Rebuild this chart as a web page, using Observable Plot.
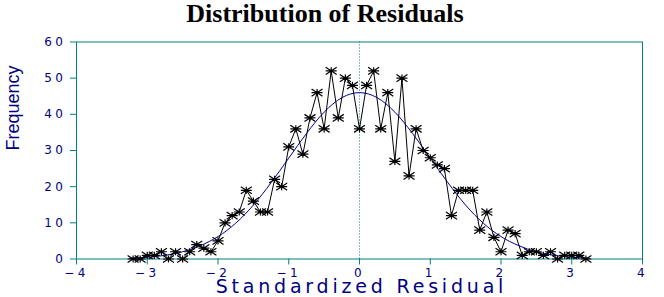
<!DOCTYPE html>
<html><head><meta charset="utf-8">
<script src="https://cdn.jsdelivr.net/npm/d3@7"></script>
<script src="https://cdn.jsdelivr.net/npm/@observablehq/plot@0.6"></script>
<style>
html,body{margin:0;padding:0;background:#fff}
body{width:664px;height:297px;overflow:hidden}
#title{font:bold 26px "Liberation Serif",serif;text-align:center;height:37px;line-height:28px;width:664px;padding-right:14px;box-sizing:border-box;color:#000}
#chart svg{display:block}
</style></head><body>
<div id="title">Distribution of Residuals</div>
<div id="chart"></div>
<script>
// Standardized residual bin centres and observed frequencies
const residual = [-3.2,-3.1,-3.0,-2.9,-2.8,-2.7,-2.6,-2.5,-2.4,-2.3,-2.2,-2.1,
  -2.0,-1.9,-1.8,-1.7,-1.6,-1.5,-1.4,-1.3,-1.2,-1.1,
  -1.0,-0.9,-0.8,-0.7,-0.6,-0.5,-0.4,-0.3,-0.2,-0.1,
  0.0,0.1,0.2,0.3,0.4,0.5,0.6,0.7,0.8,0.9,
  1.0,1.1,1.2,1.3,1.4,1.5,1.6,1.7,1.8,1.9,
  2.0,2.1,2.2,2.3,2.4,2.5,2.6,2.7,2.8,2.9,3.0,3.1,3.2];
const frequency = [0,0,1,1,2,0,2,0,2,4,3,2,
  5,10,12,13,19,16,13,13,22,20,
  31,36,29,39,46,36,52,39,50,48,
  36,48,52,36,46,27,50,23,36,30,
  28,26,25,12,19,19,19,8,13,6,
  2,8,7,1,2,2,1,2,0,1,1,1,0];

// Fitted normal curve
const curveX = [-3.25,-3.0,-2.75,-2.5,-2.25,-2.0,-1.75,-1.5,-1.25,-1.0,-0.75,-0.5,-0.25,
  0,0.25,0.5,0.75,1.0,1.25,1.5,1.75,2.0,2.25,2.5,2.75,3.0,3.25];
const curveY = [0.2,0.5,1.0,2.0,3.7,6.2,9.9,14.9,21.1,27.9,34.7,40.6,44.6,
  46.0,44.6,40.6,34.7,27.9,21.1,14.9,9.9,6.2,3.7,2.0,1.0,0.5,0.2];

const xTicks = [-4,-3,-2,-1,0,1,2,3,4];
const yTicks = [0,10,20,30,40,50,60];
const xLabel = "Standardized Residual";
const yLabel = "Frequency";

const points = residual.map((r, i) => ({r, f: frequency[i]}));
const curve = curveX.map((x, i) => ({x, y: curveY[i]}));

const teal = "#008080";
const navy = "#000080";
const curveColor = "#00009a";

const star = {
  draw(context, size) {
    const r = Math.sqrt(size / Math.PI);
    const h = r * 0.65;
    context.moveTo(-r, 0); context.lineTo(r, 0);
    context.moveTo(-r, -h); context.lineTo(r, h);
    context.moveTo(-r, h); context.lineTo(r, -h);
    context.moveTo(0, -h); context.lineTo(0, h);
  }
};

const fmt = d => d < 0 ? "\u2212" + Math.abs(d) : String(d);

const chart = Plot.plot({
  width: 664,
  height: 260,
  marginLeft: 76,
  marginRight: 22,
  marginTop: 4.5,
  marginBottom: 38.5,
  style: {background: "white", overflow: "visible"},
  x: {domain: [-4, 4]},
  y: {domain: [0, 60]},
  marks: [
    Plot.ruleX([0], {stroke: teal, strokeDasharray: "1,2"}),
    Plot.axisX({ticks: xTicks, tickSize: 6, tickPadding: 3, stroke: teal, fill: navy, tickFormat: fmt, label: null,
      fontFamily: "DejaVu Sans", fontSize: 12}),
    Plot.axisY({ticks: yTicks, tickSize: 6, tickPadding: 4, stroke: teal, fill: navy, label: null,
      fontFamily: "DejaVu Sans", fontSize: 12}),
    Plot.frame({stroke: teal}),
    Plot.line(curve, {x: "x", y: "y", stroke: curveColor, strokeWidth: 1, curve: "natural"}),
    Plot.line(points, {x: "r", y: "f", stroke: "black", strokeWidth: 1}),
    Plot.dot(points, {x: "r", y: "f", symbol: star, r: 5.5, stroke: "black", strokeWidth: 1.2, fill: "none"}),
    Plot.text([xLabel], {frameAnchor: "bottom", dy: 28.3, dx: 1.9, fill: navy, fontSize: 19,
      fontFamily: "DejaVu Sans", lineAnchor: "middle"}),
    Plot.text([yLabel], {frameAnchor: "left", dx: -63, rotate: -90, fill: navy, fontSize: 18,
      fontFamily: "Liberation Sans", lineAnchor: "middle"})
  ]
});
document.getElementById("chart").appendChild(chart);
const svg = d3.select(chart);
svg.selectAll('g[aria-label="x-axis tick label"], g[aria-label="y-axis tick label"]').style("letter-spacing", "3.5px");
svg.selectAll("text").filter(function() { return this.textContent === xLabel; }).style("letter-spacing", "3.8px");
</script>
</body></html>
